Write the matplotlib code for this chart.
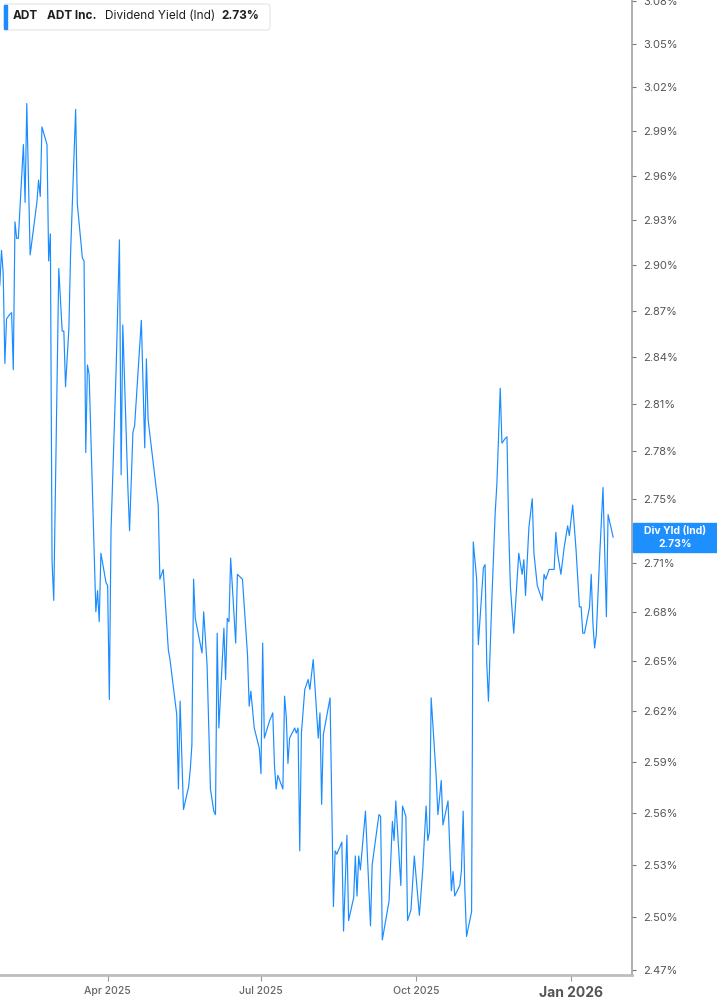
import matplotlib
matplotlib.use('Agg')
import matplotlib.pyplot as plt
import matplotlib.dates as mdates
from matplotlib.patches import Rectangle, FancyBboxPatch
from matplotlib.ticker import NullLocator
import numpy as np

# data (calendar days since 2025-01-27, yield in %)
start_date = np.datetime64('2025-01-27')
day_offset = [
    0, 1, 2, 3, 4, 6, 7, 8, 9, 10, 11, 14, 15, 16, 18, 22, 23, 24, 25, 28,
    29, 30, 31, 32, 35, 37, 38, 39, 41, 42, 45, 46, 49, 50, 51, 52, 53, 57, 58, 59,
    60, 63, 64, 65, 66, 69, 71, 72, 73, 76, 77, 79, 80, 84, 86, 87, 88, 94, 95, 97,
    100, 101, 105, 106, 107, 109, 112, 113, 114, 115, 116, 120, 121, 123, 125, 127, 128, 129, 130, 133,
    134, 135, 136, 137, 140, 141, 142, 144, 147, 148, 149, 151, 154, 155, 156, 157, 160, 162, 163, 164,
    165, 168, 169, 170, 171, 172, 175, 176, 177, 178, 179, 181, 183, 184, 186, 189, 190, 191, 192, 196,
    198, 199, 200, 203, 204, 206, 207, 210, 211, 212, 213, 214, 217, 220, 221, 225, 226, 227, 231, 233,
    234, 235, 238, 239, 241, 242, 244, 246, 249, 251, 253, 254, 255, 256, 259, 260, 262, 263, 266, 268,
    269, 270, 273, 274, 275, 276, 277, 280, 281, 283, 284, 287, 288, 289, 290, 292, 294, 295, 297, 298,
    300, 301, 302, 303, 305, 307, 308, 310, 311, 312, 314, 316, 317, 319, 322, 323, 324, 326, 329, 330,
    331, 333, 335, 337, 338, 340, 342, 344, 345, 346, 347, 350, 351, 352, 353, 354, 356, 358, 360, 361,
    364,
]
div_yield = [
    2.887, 2.910, 2.895, 2.836, 2.865, 2.868, 2.869, 2.832, 2.929, 2.918, 2.918, 2.981, 2.942, 3.009, 2.907, 2.942, 2.957, 2.946, 2.993, 2.981,
    2.903, 2.921, 2.711, 2.687, 2.898, 2.857, 2.857, 2.821, 2.859, 2.908, 3.005, 2.941, 2.905, 2.903, 2.779, 2.835, 2.829, 2.680, 2.693, 2.674,
    2.716, 2.698, 2.696, 2.627, 2.730, 2.831, 2.917, 2.765, 2.861, 2.757, 2.730, 2.792, 2.796, 2.864, 2.782, 2.839, 2.800, 2.746, 2.700, 2.706,
    2.657, 2.651, 2.618, 2.574, 2.626, 2.562, 2.575, 2.585, 2.600, 2.700, 2.676, 2.655, 2.680, 2.648, 2.574, 2.561, 2.559, 2.667, 2.610, 2.670,
    2.639, 2.676, 2.674, 2.713, 2.661, 2.703, 2.702, 2.700, 2.654, 2.623, 2.632, 2.610, 2.598, 2.583, 2.661, 2.604, 2.614, 2.619, 2.588, 2.574,
    2.582, 2.574, 2.629, 2.617, 2.589, 2.604, 2.610, 2.607, 2.610, 2.538, 2.607, 2.633, 2.639, 2.633, 2.651, 2.604, 2.619, 2.565, 2.606, 2.628,
    2.506, 2.538, 2.536, 2.543, 2.492, 2.547, 2.498, 2.511, 2.535, 2.512, 2.535, 2.527, 2.561, 2.495, 2.530, 2.559, 2.558, 2.487, 2.509, 2.555,
    2.544, 2.567, 2.518, 2.564, 2.558, 2.498, 2.504, 2.535, 2.501, 2.527, 2.564, 2.544, 2.549, 2.628, 2.581, 2.559, 2.579, 2.553, 2.567, 2.515,
    2.526, 2.512, 2.518, 2.527, 2.561, 2.515, 2.489, 2.503, 2.723, 2.700, 2.660, 2.707, 2.709, 2.649, 2.626, 2.687, 2.741, 2.759, 2.820, 2.785,
    2.788, 2.789, 2.732, 2.696, 2.667, 2.700, 2.716, 2.703, 2.712, 2.690, 2.732, 2.750, 2.716, 2.696, 2.687, 2.703, 2.700, 2.706, 2.706, 2.729,
    2.716, 2.703, 2.720, 2.733, 2.727, 2.746, 2.718, 2.683, 2.683, 2.667, 2.667, 2.683, 2.703, 2.673, 2.658, 2.666, 2.714, 2.757, 2.677, 2.740,
    2.726,
]

ytick_vals = [3.08, 3.05, 3.02, 2.99, 2.96, 2.93, 2.90, 2.87, 2.84, 2.81, 2.78, 2.75,
              2.72, 2.71, 2.68, 2.65, 2.62, 2.59, 2.56, 2.53, 2.50, 2.47]
month_ticks = ['2025-04-01', '2025-07-01', '2025-10-01', '2026-01-01']
month_labels = ['Apr 2025', 'Jul 2025', 'Oct 2025', 'Jan 2026']
series_name = 'Dividend Yield (Ind)'
last_shown = '2.73%'

plt.rcParams['font.family'] = ['Inter', 'DejaVu Sans']

BLUE = '#1a8cff'
W, H = 717, 1005
fig = plt.figure(figsize=(W / 100, H / 100), dpi=100)
ax = fig.add_axes([0, (H - 975) / H, 632 / W, 975 / H])

dates = start_date + np.array(day_offset).astype('timedelta64[D]')
ax.plot(dates, div_yield, color=BLUE, lw=0.85)

ax.set_yscale('log')
ax.set_ylim(2.4672, 3.0808)
x0 = mdates.date2num(start_date) + 0.11
x1 = mdates.date2num(np.datetime64('2026-01-01')) + 36.2
ax.set_xlim(x0, x1)

# y axis on the right
ax.yaxis.tick_right()
ax.set_yticks(ytick_vals)
ax.set_yticklabels([f'{v:.2f}%' for v in ytick_vals])
ax.yaxis.set_minor_locator(NullLocator())
ax.tick_params(axis='y', length=3, width=0.8, color='#777777', labelsize=8,
               labelcolor='#555555', pad=5)

# x axis
ax.set_xticks([mdates.date2num(np.datetime64(d)) for d in month_ticks])
ax.set_xticklabels(month_labels)
ax.xaxis.set_minor_locator(NullLocator())
ax.tick_params(axis='x', length=4, width=0.8, color='#999999', labelsize=7.5,
               labelcolor='#666666', pad=4)
jan = ax.get_xticklabels()[-1]
jan.set_fontweight('bold')
jan.set_fontsize(10)
jan.set_color('#555555')
for lab in ax.get_xticklabels()[:-1]:
    lab.set_fontweight('medium')

for s in ['top', 'left']:
    ax.spines[s].set_visible(False)
ax.spines['right'].set_color('#9a9a9a')
ax.spines['right'].set_linewidth(1.1)
ax.spines['bottom'].set_color('#bdbdbd')
ax.spines['bottom'].set_linewidth(2)


def fx(px):
    return px / W


def fy(py):
    return 1 - py / H


# header legend box
fig.add_artist(FancyBboxPatch((fx(4), fy(30)), fx(266), 26 / H,
                              boxstyle='round,pad=0,rounding_size=0.004',
                              transform=fig.transFigure, fc='white',
                              ec='#e4e4e4', lw=0.8, zorder=5))
fig.add_artist(Rectangle((fx(4), fy(29)), fx(3), 24 / H, transform=fig.transFigure,
                         color=BLUE, zorder=6))
hdr = dict(fontsize=8.5, color='#1f1f1f', va='center', zorder=7)
fig.text(fx(13), fy(16), 'ADT', fontweight='bold', **hdr)
fig.text(fx(47), fy(16), 'ADT Inc.', fontweight='bold', **hdr)
fig.text(fx(105), fy(16), series_name, **hdr)
fig.text(fx(221), fy(16), last_shown, fontweight='bold', **hdr)

# last value tag on the axis
fig.canvas.draw()
yc = ax.transData.transform((x0, div_yield[-1]))[1] / H
fig.add_artist(Rectangle((fx(633), yc - 14.5 / H), fx(84), 29 / H,
                         transform=fig.transFigure, color='#1e8fff', zorder=8))
fig.text(fx(675), yc + 6.5 / H, 'Div Yld (Ind)', color='white', fontsize=7.5,
         fontweight='bold', ha='center', va='center', zorder=9)
fig.text(fx(675), yc - 6.5 / H, last_shown, color='white', fontsize=7.5,
         fontweight='bold', ha='center', va='center', zorder=9)

fig.savefig('out.png', dpi=100)
